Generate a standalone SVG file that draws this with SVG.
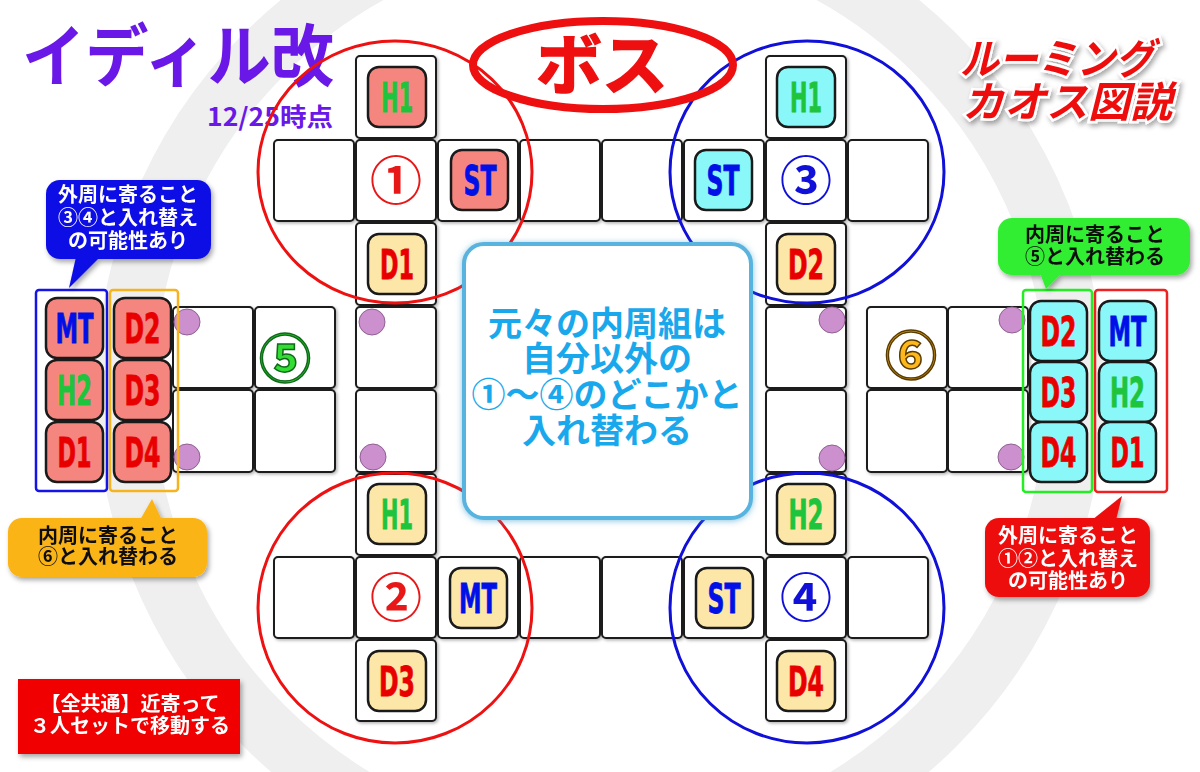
<svg xmlns="http://www.w3.org/2000/svg" width="1200" height="772" viewBox="0 0 1200 772">
<defs>
<filter id="sh" x="-10%" y="-10%" width="130%" height="130%"><feDropShadow dx="1.5" dy="1.5" stdDeviation="1.5" flood-color="#000" flood-opacity="0.3"/></filter>
<filter id="sh2" x="-10%" y="-10%" width="130%" height="140%"><feDropShadow dx="2" dy="3" stdDeviation="2.5" flood-color="#000" flood-opacity="0.35"/></filter>
<filter id="glow" x="-10%" y="-10%" width="120%" height="120%"><feDropShadow dx="0" dy="1" stdDeviation="3" flood-color="#3a9ccc" flood-opacity="0.6"/></filter>
<style>
.cell{fill:#fff;stroke:#1a1a1a;stroke-width:2;filter:url(#sh)}
.tile{stroke:#1a1a1a;stroke-width:2.5}
.tr{fill:#f4867f}.tc{fill:#8af8f8}.ty{fill:#fce7a8}
.lbl{font-family:"DejaVu Sans Condensed","DejaVu Sans","Liberation Sans",sans-serif;font-weight:bold;font-size:41px;text-anchor:middle;stroke-width:0.8}
.g{fill:#1ec43c;stroke:#1ec43c}.b{fill:#0010e6;stroke:#0010e6}.r{fill:#e80000;stroke:#e80000}
.jp{font-family:"Noto Sans CJK JP","Noto Sans CJK SC",sans-serif;font-weight:bold}
.num{font-family:"Noto Sans CJK JP",sans-serif;font-weight:bold;font-size:52px;text-anchor:middle}
.dot{fill:#cc90cf;stroke:#8f6092;stroke-width:1}
.big{fill:none;stroke-width:3}
.cw{fill:#fff;font-size:20px;text-anchor:middle}
.ck{fill:#111;font-size:20px;text-anchor:middle}
</style>
</defs>
<rect width="1200" height="772" fill="#fff"/>
<circle cx="600" cy="390" r="475" fill="none" stroke="#efefef" stroke-width="58"/>

<g id="title">
<text class="jp" x="22" y="81" font-size="68" fill="#6a18e8" textLength="312" lengthAdjust="spacingAndGlyphs">イディル改</text>
<text class="jp" x="207" y="126" font-size="25" fill="#6a18e8" textLength="126" lengthAdjust="spacingAndGlyphs">12/25時点</text>
</g>
<g id="title-right" filter="url(#sh2)">
<text class="jp" font-size="42" font-style="italic" fill="#ee1111" stroke="#fff" stroke-width="5" paint-order="stroke"><tspan x="960" y="74" textLength="194" lengthAdjust="spacingAndGlyphs">ルーミング</tspan><tspan x="962" y="117" textLength="210" lengthAdjust="spacingAndGlyphs">カオス図説</tspan></text>
</g>

<g id="grid">
<rect class="cell" x="356" y="56" width="80" height="82" rx="4"/>
<rect class="cell" x="766" y="56" width="80" height="82" rx="4"/>
<rect class="cell" x="274" y="140" width="80" height="81" rx="4"/>
<rect class="cell" x="356" y="140" width="80" height="81" rx="4"/>
<rect class="cell" x="438" y="140" width="80" height="81" rx="4"/>
<rect class="cell" x="520" y="140" width="80" height="81" rx="4"/>
<rect class="cell" x="602" y="140" width="80" height="81" rx="4"/>
<rect class="cell" x="684" y="140" width="80" height="81" rx="4"/>
<rect class="cell" x="766" y="140" width="80" height="81" rx="4"/>
<rect class="cell" x="848" y="140" width="80" height="81" rx="4"/>
<rect class="cell" x="356" y="223" width="80" height="82" rx="4"/>
<rect class="cell" x="766" y="223" width="80" height="82" rx="4"/>
<rect class="cell" x="173" y="307" width="80" height="81" rx="4"/>
<rect class="cell" x="255" y="307" width="80" height="81" rx="4"/>
<rect class="cell" x="356" y="307" width="80" height="81" rx="4"/>
<rect class="cell" x="766" y="307" width="80" height="81" rx="4"/>
<rect class="cell" x="867" y="307" width="80" height="81" rx="4"/>
<rect class="cell" x="948" y="307" width="80" height="81" rx="4"/>
<rect class="cell" x="173" y="390" width="80" height="82" rx="4"/>
<rect class="cell" x="255" y="390" width="80" height="82" rx="4"/>
<rect class="cell" x="356" y="390" width="80" height="82" rx="4"/>
<rect class="cell" x="766" y="390" width="80" height="82" rx="4"/>
<rect class="cell" x="867" y="390" width="80" height="82" rx="4"/>
<rect class="cell" x="948" y="390" width="80" height="82" rx="4"/>
<rect class="cell" x="356" y="474" width="80" height="81" rx="4"/>
<rect class="cell" x="766" y="474" width="80" height="81" rx="4"/>
<rect class="cell" x="274" y="557" width="80" height="81" rx="4"/>
<rect class="cell" x="356" y="557" width="80" height="81" rx="4"/>
<rect class="cell" x="438" y="557" width="80" height="81" rx="4"/>
<rect class="cell" x="520" y="557" width="80" height="81" rx="4"/>
<rect class="cell" x="602" y="557" width="80" height="81" rx="4"/>
<rect class="cell" x="684" y="557" width="80" height="81" rx="4"/>
<rect class="cell" x="766" y="557" width="80" height="81" rx="4"/>
<rect class="cell" x="848" y="557" width="80" height="81" rx="4"/>
<rect class="cell" x="356" y="640" width="80" height="81" rx="4"/>
<rect class="cell" x="766" y="640" width="80" height="81" rx="4"/>
</g>

<g id="dots">
<circle class="dot" cx="187" cy="322" r="13"/>
<circle class="dot" cx="187" cy="457" r="13"/>
<circle class="dot" cx="372" cy="322" r="13"/>
<circle class="dot" cx="373" cy="457" r="13"/>
<circle class="dot" cx="832" cy="320" r="13"/>
<circle class="dot" cx="832" cy="458" r="13"/>
<circle class="dot" cx="1012" cy="320" r="13"/>
<circle class="dot" cx="1011" cy="457" r="13"/>
</g>

<g id="group1">
<rect class="tile tr" x="368" y="67" width="58" height="60" rx="11"/>
<text class="lbl g" x="397" y="112" textLength="32" lengthAdjust="spacingAndGlyphs">H1</text>
<text class="num" x="396" y="200" fill="#e81818">①</text>
<rect class="tile tr" x="451" y="150" width="57" height="60" rx="11"/>
<text class="lbl b" x="480" y="195" textLength="33" lengthAdjust="spacingAndGlyphs">ST</text>
<rect class="tile ty" x="368" y="234" width="58" height="60" rx="11"/>
<text class="lbl r" x="397" y="279" textLength="34" lengthAdjust="spacingAndGlyphs">D1</text>
</g>
<g id="group3">
<rect class="tile tc" x="777" y="67" width="58" height="60" rx="11"/>
<text class="lbl g" x="806" y="112" textLength="32" lengthAdjust="spacingAndGlyphs">H1</text>
<text class="num" x="806" y="200" fill="#1010d8">③</text>
<rect class="tile tc" x="695" y="150" width="57" height="60" rx="11"/>
<text class="lbl b" x="723" y="195" textLength="33" lengthAdjust="spacingAndGlyphs">ST</text>
<rect class="tile ty" x="777" y="234" width="58" height="60" rx="11"/>
<text class="lbl r" x="806" y="279" textLength="36" lengthAdjust="spacingAndGlyphs">D2</text>
</g>
<g id="group2">
<rect class="tile ty" x="368" y="484" width="58" height="60" rx="11"/>
<text class="lbl g" x="397" y="529" textLength="32" lengthAdjust="spacingAndGlyphs">H1</text>
<text class="num" x="396" y="617" fill="#e81818">②</text>
<rect class="tile ty" x="450" y="568" width="57" height="60" rx="11"/>
<text class="lbl b" x="478" y="613" textLength="38" lengthAdjust="spacingAndGlyphs">MT</text>
<rect class="tile ty" x="368" y="651" width="58" height="60" rx="11"/>
<text class="lbl r" x="397" y="696" textLength="36" lengthAdjust="spacingAndGlyphs">D3</text>
</g>
<g id="group4">
<rect class="tile ty" x="777" y="484" width="58" height="60" rx="11"/>
<text class="lbl g" x="806" y="529" textLength="35" lengthAdjust="spacingAndGlyphs">H2</text>
<text class="num" x="806" y="617" fill="#1010d8">④</text>
<rect class="tile ty" x="696" y="568" width="57" height="60" rx="11"/>
<text class="lbl b" x="724" y="613" textLength="33" lengthAdjust="spacingAndGlyphs">ST</text>
<rect class="tile ty" x="777" y="651" width="58" height="60" rx="11"/>
<text class="lbl r" x="806" y="696" textLength="36" lengthAdjust="spacingAndGlyphs">D4</text>
</g>

<g id="circles">
<ellipse class="big" cx="395" cy="172" rx="137" ry="131" stroke="#ee1111"/>
<ellipse class="big" cx="807" cy="172" rx="137" ry="131" stroke="#1010d8"/>
<ellipse class="big" cx="395" cy="608" rx="137" ry="135" stroke="#ee1111"/>
<ellipse class="big" cx="807" cy="608" rx="137" ry="135" stroke="#1010d8"/>
</g>

<g id="boss">
<ellipse cx="603" cy="65" rx="130" ry="44" fill="none" stroke="#ee1010" stroke-width="8"/>
<text class="jp" x="602" y="89" font-size="66" fill="#ee1010" text-anchor="middle" stroke="#ee1010" stroke-width="1.5">ボス</text>
</g>

<g id="area5">
<text class="num" x="285" y="378" fill="#33dd33" stroke="#0f6a1a" stroke-width="1.5">⑤</text>
</g>
<g id="area6">
<text class="num" x="911" y="375" fill="#ffb81c" stroke="#5a3c00" stroke-width="1.5">⑥</text>
</g>

<g id="left-stack">
<rect x="36" y="290" width="71" height="201" rx="3" fill="none" stroke="#1414e6" stroke-width="2.5"/>
<rect x="110" y="290" width="68" height="201" rx="3" fill="none" stroke="#f5b41e" stroke-width="2.5"/>
<rect class="tile tr" x="46" y="298" width="57" height="60" rx="11"/>
<text class="lbl b" x="74.5" y="343" textLength="38" lengthAdjust="spacingAndGlyphs">MT</text>
<rect class="tile tr" x="46" y="360" width="57" height="60" rx="11"/>
<text class="lbl g" x="74.5" y="405" textLength="35" lengthAdjust="spacingAndGlyphs">H2</text>
<rect class="tile tr" x="46" y="422" width="57" height="60" rx="11"/>
<text class="lbl r" x="74.5" y="467" textLength="34" lengthAdjust="spacingAndGlyphs">D1</text>
<rect class="tile tr" x="114" y="298" width="57" height="60" rx="11"/>
<text class="lbl r" x="142.5" y="343" textLength="36" lengthAdjust="spacingAndGlyphs">D2</text>
<rect class="tile tr" x="114" y="360" width="57" height="60" rx="11"/>
<text class="lbl r" x="142.5" y="405" textLength="36" lengthAdjust="spacingAndGlyphs">D3</text>
<rect class="tile tr" x="114" y="422" width="57" height="60" rx="11"/>
<text class="lbl r" x="142.5" y="467" textLength="36" lengthAdjust="spacingAndGlyphs">D4</text>
</g>

<g id="right-stack">
<rect x="1023" y="290" width="69" height="202" rx="3" fill="none" stroke="#22ee22" stroke-width="2.5"/>
<rect x="1095" y="290" width="72" height="202" rx="3" fill="none" stroke="#ee2222" stroke-width="2.5"/>
<rect class="tile tc" x="1030" y="301" width="57" height="60" rx="11"/>
<text class="lbl r" x="1058.5" y="346" textLength="36" lengthAdjust="spacingAndGlyphs">D2</text>
<rect class="tile tc" x="1030" y="362" width="57" height="60" rx="11"/>
<text class="lbl r" x="1058.5" y="407" textLength="36" lengthAdjust="spacingAndGlyphs">D3</text>
<rect class="tile tc" x="1030" y="422" width="57" height="60" rx="11"/>
<text class="lbl r" x="1058.5" y="467" textLength="36" lengthAdjust="spacingAndGlyphs">D4</text>
<rect class="tile tc" x="1099" y="301" width="57" height="60" rx="11"/>
<text class="lbl b" x="1127.5" y="346" textLength="38" lengthAdjust="spacingAndGlyphs">MT</text>
<rect class="tile tc" x="1099" y="362" width="57" height="60" rx="11"/>
<text class="lbl g" x="1127.5" y="407" textLength="35" lengthAdjust="spacingAndGlyphs">H2</text>
<rect class="tile tc" x="1099" y="422" width="57" height="60" rx="11"/>
<text class="lbl r" x="1127.5" y="467" textLength="34" lengthAdjust="spacingAndGlyphs">D1</text>
</g>

<g id="center-note">
<rect x="464" y="244" width="287" height="274" rx="20" fill="#fff" stroke="#58b4de" stroke-width="4" filter="url(#glow)"/>
<text class="jp" font-size="34" fill="#1aa8ec" text-anchor="middle"><tspan x="607" y="336">元々の内周組は</tspan><tspan x="607" y="371">自分以外の</tspan><tspan x="607" y="407">①～④のどこかと</tspan><tspan x="607" y="443">入れ替わる</tspan></text>
</g>

<g id="callout-blue" filter="url(#sh2)">
<rect x="46" y="180" width="165" height="79" rx="14" fill="#0a0ae6"/>
<polygon points="76,257 100,257 69,288" fill="#0a0ae6"/>
<text class="jp cw"><tspan x="128" y="202">外周に寄ること</tspan><tspan x="128" y="225">③④と入れ替え</tspan><tspan x="128" y="248">の可能性あり</tspan></text>
</g>

<g id="callout-green" filter="url(#sh2)">
<rect x="998" y="218" width="192" height="57" rx="14" fill="#33ee33"/>
<polygon points="1040,273 1062,273 1046,289" fill="#33ee33"/>
<text class="jp ck"><tspan x="1095" y="242">内周に寄ること</tspan><tspan x="1095" y="264">⑤と入れ替わる</tspan></text>
</g>

<g id="callout-orange" filter="url(#sh2)">
<rect x="8" y="518" width="199" height="59" rx="14" fill="#fbb418"/>
<polygon points="140,520 162,520 152,499" fill="#fbb418"/>
<text class="jp ck"><tspan x="108" y="543">内周に寄ること</tspan><tspan x="108" y="564">⑥と入れ替わる</tspan></text>
</g>

<g id="callout-red" filter="url(#sh2)">
<rect x="985" y="518" width="165" height="79" rx="14" fill="#ee0a0a"/>
<polygon points="1092,520 1116,520 1122,496" fill="#ee0a0a"/>
<text class="jp cw"><tspan x="1068" y="543">外周に寄ること</tspan><tspan x="1068" y="566">①②と入れ替え</tspan><tspan x="1068" y="588">の可能性あり</tspan></text>
</g>

<g id="note-common" filter="url(#sh2)">
<rect x="18" y="679" width="222" height="75" fill="#f00000"/>
<text class="jp cw"><tspan x="130" y="711">【全共通】近寄って</tspan><tspan x="130" y="733">３人セットで移動する</tspan></text>
</g>

<g id="connectors"></g>
</svg>
